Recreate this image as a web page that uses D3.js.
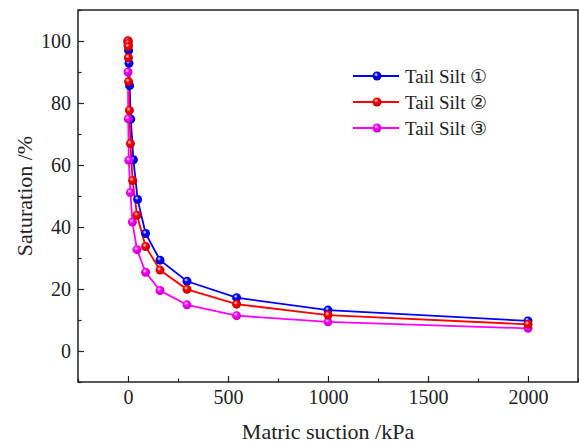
<!DOCTYPE html>
<html>
<head>
<meta charset="utf-8">
<script src="https://cdn.jsdelivr.net/npm/d3@7"></script>
<style>
  body { margin: 0; background: #fff; }
  svg text { font-family: "Liberation Serif", "Times New Roman", serif !important; fill: #222; }
</style>
</head>
<body>
<div class="chart"></div>
<script>
var svgWidth = 579;
var svgHeight = 444;

var margin = { top: 10, right: 1, bottom: 62, left: 78 };

var width = svgWidth - margin.left - margin.right;
var height = svgHeight - margin.top - margin.bottom;

// Data
var seriesNames = ["Tail Silt \u2460", "Tail Silt \u2461", "Tail Silt \u2462"];
var seriesColors = ["#0000ff", "#ff0000", "#ff00ff"];

var suction1 = [0, 1, 3, 5, 8, 14, 27, 48, 88, 160, 295, 543, 1000, 2000];
var saturation1 = [100, 98.6, 96.9, 92.8, 85.6, 74.8, 61.7, 48.9, 37.9, 29.3, 22.5, 17.2, 13.2, 9.7];

var suction2 = [0, 0.5, 1, 2, 3, 7, 12, 23, 45, 88, 160, 295, 543, 1000, 2000];
var saturation2 = [100, 99.2, 98.2, 94.6, 86.9, 77.6, 66.9, 55, 43.8, 33.7, 26.1, 19.9, 15.1, 11.6, 8.6];

var suction3 = [0, 0, 1, 4, 12, 22, 45, 88, 160, 295, 543, 1000, 2000];
var saturation3 = [100, 90, 74.9, 61.5, 51.1, 41.6, 32.7, 25.4, 19.5, 14.9, 11.4, 9.4, 7.3];

var xTicks = [0, 500, 1000, 1500, 2000];
var yTicks = [0, 20, 40, 60, 80, 100];

var series = [
  { x: suction1, y: saturation1 },
  { x: suction2, y: saturation2 },
  { x: suction3, y: saturation3 }
];

var svg = d3.select(".chart")
  .append("svg")
  .attr("width", svgWidth)
  .attr("height", svgHeight);

// sphere-like marker gradients
var defs = svg.append("defs");
seriesColors.forEach(function(c, i) {
  var g = defs.append("radialGradient")
    .attr("id", "ball" + i)
    .attr("cx", "40%").attr("cy", "35%").attr("r", "65%");
  g.append("stop").attr("offset", "0%").attr("stop-color", "#ffffff");
  g.append("stop").attr("offset", "35%").attr("stop-color", c);
  g.append("stop").attr("offset", "100%").attr("stop-color", d3.color(c).darker(0.8));
});

var chartGroup = svg.append("g")
  .attr("transform", `translate(${margin.left}, ${margin.top})`);

var xScale = d3.scaleLinear().domain([-250, 2250]).range([0, width]);
var yScale = d3.scaleLinear().domain([-10, 110]).range([height, 0]);

// minor ticks
var xMinor = d3.range(-250, 2251, 250).filter(d => xTicks.indexOf(d) < 0);
var yMinor = d3.range(-10, 111, 10).filter(d => yTicks.indexOf(d) < 0);

chartGroup.append("g")
  .attr("transform", `translate(0, ${height})`)
  .call(d3.axisBottom(xScale).tickValues(xMinor).tickSize(-3.5).tickFormat(""))
  .call(g => g.select(".domain").remove());

chartGroup.append("g")
  .call(d3.axisLeft(yScale).tickValues(yMinor).tickSize(-3.5).tickFormat(""))
  .call(g => g.select(".domain").remove());

var xAxis = chartGroup.append("g")
  .attr("transform", `translate(0, ${height})`)
  .call(d3.axisBottom(xScale).tickValues(xTicks).tickSize(-6).tickPadding(8).tickFormat(d3.format("d")));
xAxis.select(".domain").remove();

var yAxis = chartGroup.append("g")
  .call(d3.axisLeft(yScale).tickValues(yTicks).tickSize(-6).tickPadding(7).tickFormat(d3.format("d")));
yAxis.select(".domain").remove();

chartGroup.selectAll("g").attr("font-family", null);
chartGroup.selectAll(".tick line").attr("stroke", "#222").attr("stroke-width", 1.2);
chartGroup.selectAll(".tick text")
  .style("font-size", "20px")
  .attr("fill", "#222");

// frame
chartGroup.append("rect")
  .attr("x", 0).attr("y", 0)
  .attr("width", width).attr("height", height)
  .attr("fill", "none")
  .attr("stroke", "#222")
  .attr("stroke-width", 1.5);

// lines and markers
var line = d3.line()
  .x(d => xScale(d[0]))
  .y(d => yScale(d[1]));

series.forEach(function(s, i) {
  var pts = s.x.map((v, j) => [v, s.y[j]]);
  chartGroup.append("path")
    .datum(pts)
    .attr("d", line)
    .attr("fill", "none")
    .attr("stroke", seriesColors[i])
    .attr("stroke-width", 1.8);
});

// markers: red drawn last so it sits on top near 100 %
[0, 2, 1].forEach(function(i) {
  var s = series[i];
  var pts = s.x.map((v, j) => [v, s.y[j]]);
  chartGroup.selectAll(".pt" + i)
    .data(pts)
    .enter()
    .append("circle")
    .attr("cx", d => xScale(d[0]))
    .attr("cy", d => yScale(d[1]))
    .attr("r", 4.5)
    .attr("fill", "url(#ball" + i + ")");
});

// legend
var legend = chartGroup.append("g")
  .attr("transform", "translate(275, 66)");

seriesNames.forEach(function(name, i) {
  var row = legend.append("g").attr("transform", `translate(0, ${i * 26})`);
  row.append("line")
    .attr("x1", 0).attr("x2", 46)
    .attr("stroke", seriesColors[i])
    .attr("stroke-width", 1.8);
  row.append("circle")
    .attr("cx", 24).attr("cy", 0).attr("r", 4.5)
    .attr("fill", "url(#ball" + i + ")");
  row.append("text")
    .attr("x", 52)
    .attr("y", 6.5)
    .style("font-size", "19px")
    .text(name);
});

// axis labels
chartGroup.append("text")
  .attr("transform", "rotate(-90)")
  .attr("x", -height / 2)
  .attr("y", -46)
  .attr("text-anchor", "middle")
  .style("font-size", "22px")
  .text("Saturation /%");

chartGroup.append("text")
  .attr("x", xScale(1000))
  .attr("y", height + 57)
  .attr("text-anchor", "middle")
  .style("font-size", "22px")
  .text("Matric suction /kPa");
</script>
</body>
</html>
